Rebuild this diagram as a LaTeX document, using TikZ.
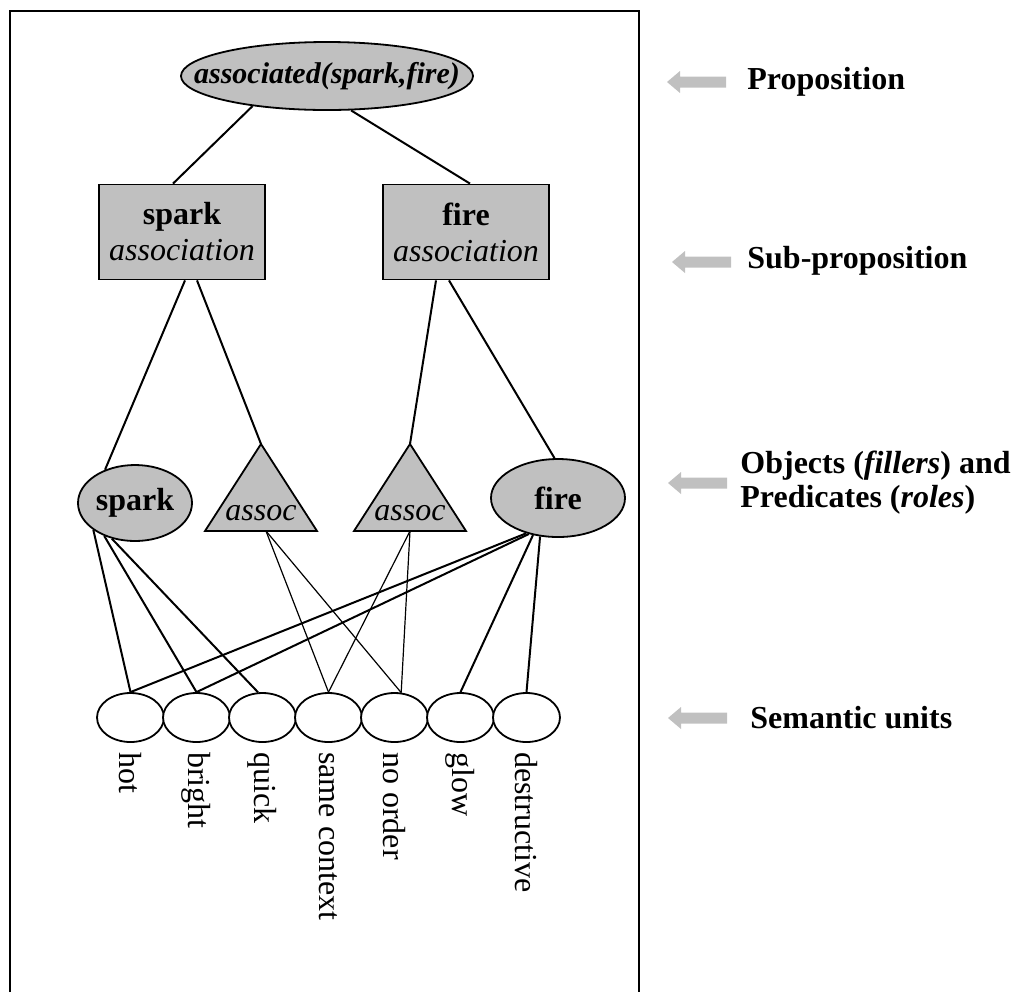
\documentclass[tikz,border=0pt]{standalone}
\usepackage{fontspec}
\setmainfont{Liberation Serif}
\usetikzlibrary{shapes.geometric,calc}
\definecolor{shade}{RGB}{192,192,192}
\definecolor{pointer}{RGB}{192,192,192}
\begin{document}
\begin{tikzpicture}[x=0.5pt,y=-0.5pt,
  txt/.style={font=\fontsize{16}{18}\selectfont},
  oval/.style={draw, line width=0.9pt, fill=shade, ellipse, inner sep=0pt},
  box/.style={draw, line width=0.9pt, fill=shade, rectangle, inner sep=0pt,
    align=center, minimum width=83pt, minimum height=47.5pt, txt},
  tri/.style={draw, line width=0.9pt, fill=shade, line join=miter},
  unit/.style={draw, line width=0.9pt, fill=white, ellipse, inner sep=0pt,
    minimum width=33.5pt, minimum height=24.5pt},
  unitlabel/.style={txt, rotate=-90, anchor=west, inner sep=0pt},
  level/.style={font=\fontsize{16}{17}\selectfont\bfseries, anchor=west,
    inner sep=0pt, align=left},
  link/.style={line width=1pt},
  thinlink/.style={line width=0.6pt},
  sidearrow/.pic={\fill[pointer] (0,0) -- (13,-11) -- (13,-5.5) -- (59,-5.5)
    -- (59,5.5) -- (13,5.5) -- (13,11) -- cycle;}
]
\useasboundingbox (0,0) rectangle (1011,992);

% outer frame (open at the bottom edge)
\draw[line width=0.6pt] (10,992) -- (10,11) -- (639,11) -- (639,992);

% proposition
\node[oval, minimum width=146pt, minimum height=34pt] (prop) at (327,76) {};
\node[font=\fontsize{15}{17}\selectfont\bfseries\itshape] (proptext) at (prop.center) {associated(spark,fire)};

% sub-propositions
\node[box] (sbox) at (182,232) {\textbf{spark}\\\textit{association}};
\node[box] (fbox) at (466,232) {\textbf{fire}\\\textit{association}};

% objects and predicates
\node[oval, minimum width=57pt, minimum height=38pt,
  label={[txt, font=\fontsize{16}{18}\selectfont\bfseries]center:spark}] (spk) at (135,503) {};
\node[oval, minimum width=67pt, minimum height=39pt,
  label={[txt, font=\fontsize{16}{18}\selectfont\bfseries]center:fire}] (fir) at (558,498) {};

\coordinate (a1) at (261,444);
\coordinate (a2) at (410,444);
\draw[tri] (a1) -- (317,531) -- (205,531) -- cycle;
\draw[tri] (a2) -- (466,531) -- (354,531) -- cycle;
\node[txt, anchor=base] (tri1) at (261,520) {\itshape assoc};
\node[txt, anchor=base] (tri2) at (410,520) {\itshape assoc};
\coordinate (b1) at (266,531);
\coordinate (b2) at (410,531);

% semantic units
\foreach \i/\w in {1/hot,2/bright,3/quick,4/same context,5/no order,6/glow,7/destructive}{
  \node[unit] (u\i) at ({130.5+66*(\i-1)},717.5) {};
  \node[unitlabel] (w\i) at ($(u\i.south)+(0,9)$) {\w};
}

% links from the proposition down
\draw[link] (prop.202) -- ($(sbox.north)+(-9,0)$);
\draw[link] (prop.305) -- ($(fbox.north)+(4,0)$);
\draw[link] ($(sbox.south)+(3,0)$) -- (spk.132);
\draw[link] ($(sbox.south)+(15,0)$) -- (a1);
\draw[link] ($(fbox.south)+(-30,0)$) -- (a2);
\draw[link] ($(fbox.south)+(-17,0)$) -- (fir.95);

% links to the semantic units
\draw[link] (spk.213) -- (u1.north);
\draw[link] (spk.227) -- (u2.north);
\draw[link] (spk.237) -- (u3.100);
\draw[link] (fir.228) -- (u1.north);
\draw[link] (fir.231) -- (u2.north);
\draw[link] (fir.236) -- (u6.north);
\draw[link] (fir.245) -- (u7.north);
\draw[thinlink] (b1) -- (u4.north);
\draw[thinlink] (b1) -- (u5.75);
\draw[thinlink] (b2) -- (u4.north);
\draw[thinlink] (b2) -- (u5.75);

% level captions
\pic at (667,82) {sidearrow};
\node[level] (lprop) at (747,82) {Proposition};
\pic at (672,262) {sidearrow};
\node[level] (lsub) at (747,261) {Sub-proposition};
\pic at (668,483) {sidearrow};
\node[level] (lobj) at (740,483) {Objects (\textit{fillers}) and\\Predicates (\textit{roles})};
\pic at (668,718) {sidearrow};
\node[level] (lsem) at (750,718) {Semantic units};
\end{tikzpicture}
\end{document}
